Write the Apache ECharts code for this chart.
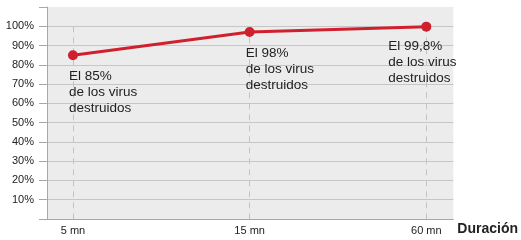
<!DOCTYPE html>
<html>
<head>
<meta charset="utf-8">
<script src="https://cdn.jsdelivr.net/npm/echarts@6/dist/echarts.min.js"></script>
<style>
    html, body { margin: 0; padding: 0; background: #ffffff; }
    #chart { width: 521px; height: 240px; }
</style>
</head>
<body>
<div id="chart"></div>
<script>
    var durations = ['5 mn', '15 mn', '60 mn'];
    var positions = [0, 1, 2];
    var destroyed = [85, 97, 99.8];
    var notes = [
        'El 85%\nde los virus\ndestruidos',
        'El 98%\nde los virus\ndestruidos',
        'El 99,8%\nde los virus\ndestruidos'
    ];
    var yTicks = [10, 20, 30, 40, 50, 60, 70, 80, 90, 100];

    var chart = echarts.init(document.getElementById('chart'));

    var points = positions.map(function (x, i) {
        var item = { value: [x, destroyed[i]] };
        if (i === positions.length - 1) {
            item.label = { offset: [-38, 2] };
        }
        return item;
    });

    var guides = positions.map(function (x) {
        return [{ coord: [x, 100] }, { coord: [x, 0] }];
    });

    chart.setOption({
        backgroundColor: '#ffffff',
        animation: false,
        textStyle: { fontFamily: '"Liberation Sans", Arial, sans-serif' },
        grid: {
            left: 47,
            right: 67,
            top: 7,
            bottom: 21,
            show: true,
            backgroundColor: '#ececec',
            borderWidth: 0
        },
        xAxis: {
            type: 'value',
            min: -0.147,
            max: 2.153,
            name: 'Duración',
            nameLocation: 'end',
            nameGap: 4,
            nameTextStyle: {
                color: '#222',
                fontSize: 14,
                fontWeight: 'bold',
                verticalAlign: 'top',
                padding: [3, 0, 0, 0]
            },
            axisLine: { show: true, lineStyle: { color: '#a8a8a8', width: 1 } },
            axisTick: { show: false },
            axisLabel: {
                color: '#222',
                fontSize: 11,
                margin: 6,
                customValues: positions,
                formatter: function (v) {
                    return durations[Math.round(v)];
                }
            },
            splitLine: { show: false }
        },
        yAxis: {
            type: 'value',
            min: 0,
            max: 110,
            interval: 10,
            axisLine: { show: true, onZero: false, lineStyle: { color: '#a8a8a8', width: 1 } },
            axisTick: {
                show: true,
                length: 8,
                lineStyle: { color: '#a8a8a8', width: 1 }
            },
            axisLabel: {
                color: '#222',
                fontSize: 11,
                margin: 13,
                customValues: yTicks,
                formatter: function (v) {
                    return v + '%';
                }
            },
            splitLine: {
                show: true,
                showMinLine: false,
                showMaxLine: false,
                lineStyle: { color: '#c6c6c6', width: 1 }
            }
        },
        series: [
            {
                type: 'line',
                data: points,
                symbol: 'circle',
                symbolSize: 10,
                lineStyle: { color: '#d0202e', width: 3 },
                itemStyle: { color: '#d0202e' },
                z: 5,
                label: {
                    show: true,
                    position: 'bottom',
                    align: 'left',
                    verticalAlign: 'top',
                    offset: [-4, 3],
                    color: '#222',
                    fontSize: 13.5,
                    lineHeight: 16,
                    formatter: function (p) {
                        return notes[p.dataIndex];
                    }
                },
                markLine: {
                    silent: true,
                    symbol: 'none',
                    label: { show: false },
                    lineStyle: { color: '#c4c4c4', width: 1, type: [6, 5] },
                    data: guides
                }
            }
        ]
    });
</script>
</body>
</html>
